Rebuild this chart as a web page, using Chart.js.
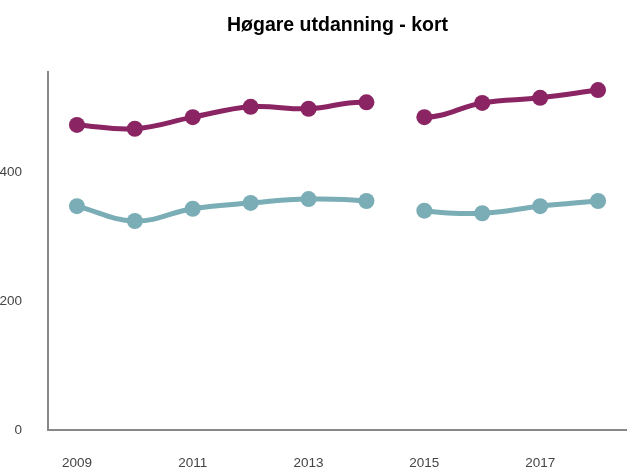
<!DOCTYPE html>
<html>
<head>
<meta charset="utf-8">
<script src="https://cdn.jsdelivr.net/npm/chart.js@4"></script>
<style>
  html, body { margin: 0; padding: 0; background: #fff; overflow: hidden; }
  #wrap { position: relative; width: 627px; height: 470px; }
  #wrap canvas { display: block; }
  #title {
    position: absolute; left: 48px; width: 579px; top: 13px; line-height: 20px;
    text-align: center; font: bold 19.5px "Liberation Sans", Arial, sans-serif; color: #000;
  }
</style>
</head>
<body>
<div id="wrap">
  <canvas id="line-chart" width="627" height="470"></canvas>
  <div id="title">Høgare utdanning - kort</div>
</div>
<script>
// data
const years = ['2009', '2010', '2011', '2012', '2013', '2014', '2015', '2016', '2017', '2018'];
const seriesPurple = [473, 467, 485, 501, 498, 508, 485, 507, 515, 527];
const seriesTeal = [347, 324, 343, 352, 358, 355, 340, 336, 347, 355];
const yTicks = [0, 200, 400];

const gapAfter = 5; // no line between 2014 and 2015

function makeSet(values, color) {
  return {
    label: '',
    data: values,
    borderColor: color,
    backgroundColor: color,
    borderWidth: 5,
    pointRadius: 8,
    pointHoverRadius: 8,
    pointBorderWidth: 0,
    tension: 0.4,
    segment: {
      // hide the 2014-2015 piece
      borderColor: c => c.p0DataIndex === gapAfter ? 'rgba(0,0,0,0)' : undefined
    }
  };
}

const tickFont = { family: '"Liberation Sans", Arial, sans-serif', size: 13.5 };

const ctx = document.getElementById('line-chart');
const chart = new Chart(ctx, {
  type: 'line',
  data: {
    labels: years,
    datasets: [
      makeSet(seriesPurple, '#8a2463'),
      makeSet(seriesTeal, '#7aadb6')
    ]
  },
  options: {
    responsive: false,
    animation: false,
    layout: { autoPadding: false, padding: { top: 72, right: 0, bottom: 0, left: 0 } },
    plugins: {
      legend: { display: false },
      tooltip: { enabled: false }
    },
    scales: {
      x: {
        offset: true,
        grid: { display: false, drawTicks: false },
        border: { display: true, color: '#888', width: 2 },
        afterFit: s => { s.height = 40; },
        ticks: {
          autoSkip: false,
          maxRotation: 0,
          padding: 25,
          color: '#444',
          font: tickFont,
          callback: (v, i) => i % 2 === 0 ? years[i] : ''
        }
      },
      y: {
        min: 0,
        max: 555,
        grid: { display: false, drawTicks: false },
        border: { display: true, color: '#888', width: 2 },
        afterFit: s => { s.width = 48; },
        afterBuildTicks: s => { s.ticks = yTicks.map(v => ({ value: v })); },
        ticks: {
          padding: 26,
          color: '#444',
          font: tickFont
        }
      }
    }
  }
});
</script>
</body>
</html>
